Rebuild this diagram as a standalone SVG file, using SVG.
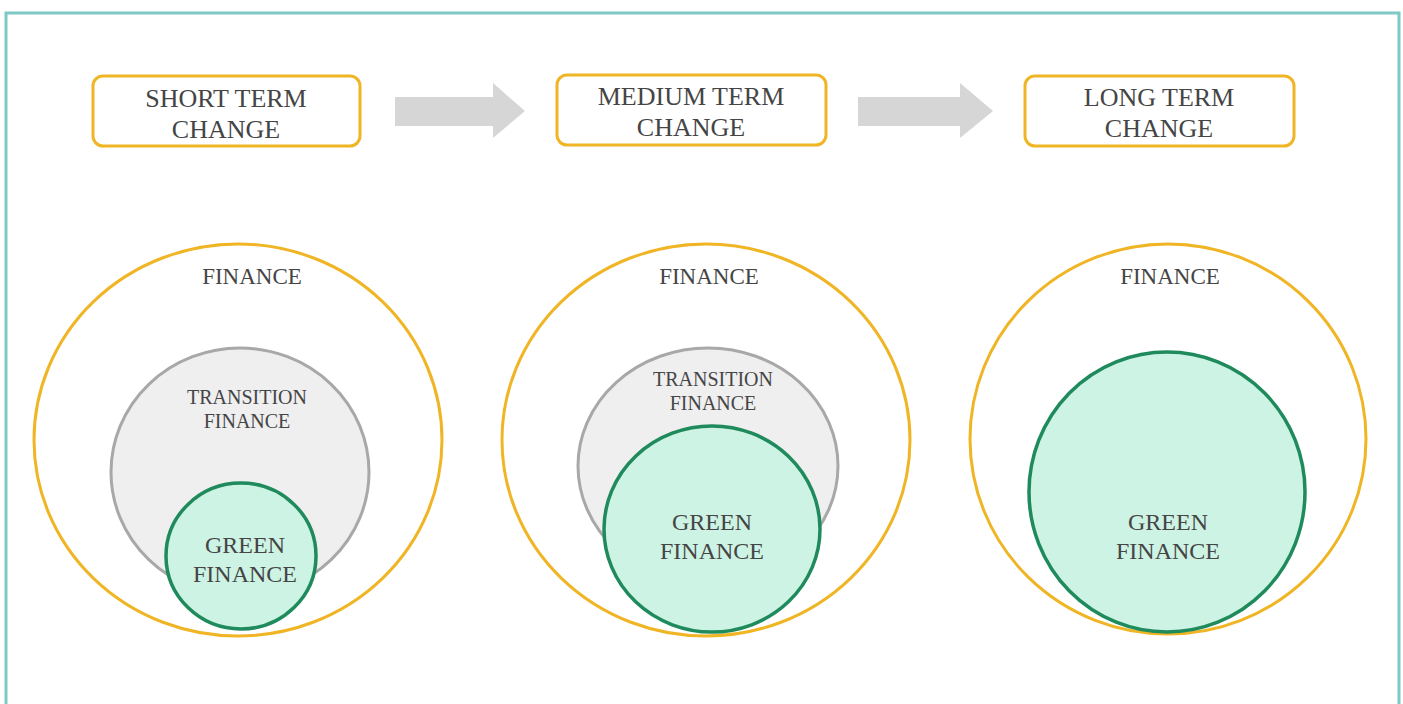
<svg xmlns="http://www.w3.org/2000/svg" width="1403" height="704" viewBox="0 0 1403 704">
<style>
.t{font-family:"Liberation Serif","Times New Roman",serif;fill:#454545;text-anchor:middle}
.box{fill:#fff;stroke:#F0B524;stroke-width:3}
.outer{fill:#fff;stroke:#F0B524;stroke-width:3}
.trans{fill:#EFEFF0;stroke:#A8A8A8;stroke-width:3}
.green{fill:#CDF3E4;stroke:#1F8A5C;stroke-width:3.5}
.arrow{fill:#D6D6D6}
</style>
<rect x="0" y="0" width="1403" height="704" fill="#fff"/>
<path d="M6,710 V13 H1399 V710" fill="none" stroke="#7DC9C5" stroke-width="3"/>
<g id="short-term">
<rect class="box" x="93" y="76" width="267" height="70" rx="10"/>
<text class="t" x="226" y="107" font-size="26">SHORT TERM</text>
<text class="t" x="226" y="138" font-size="26">CHANGE</text>
</g>
<g id="medium-term">
<rect class="box" x="557" y="75" width="269" height="70" rx="10"/>
<text class="t" x="691" y="105" font-size="26">MEDIUM TERM</text>
<text class="t" x="691" y="136" font-size="26">CHANGE</text>
</g>
<g id="long-term">
<rect class="box" x="1025" y="76" width="269" height="70" rx="10"/>
<text class="t" x="1159" y="106" font-size="26">LONG TERM</text>
<text class="t" x="1159" y="137" font-size="26">CHANGE</text>
</g>
<g id="connectors">
<polygon class="arrow" points="395,97 493,97 493,83 525,111 493,138 493,126 395,126"/>
<polygon class="arrow" points="858,97 960,97 960,83 993,111 960,138 960,126 858,126"/>
</g>
<g id="short-finance">
<ellipse class="outer" cx="238" cy="440" rx="204" ry="196"/>
<text class="t" x="252" y="284" font-size="23">FINANCE</text>
</g>
<g id="short-transition">
<ellipse class="trans" cx="240" cy="472" rx="129" ry="124"/>
<text class="t" x="247" y="404" font-size="20">TRANSITION</text>
<text class="t" x="247" y="428" font-size="20">FINANCE</text>
</g>
<g id="short-green">
<ellipse class="green" cx="241" cy="556" rx="75" ry="73"/>
<text class="t" x="245" y="553" font-size="24">GREEN</text>
<text class="t" x="245" y="582" font-size="24">FINANCE</text>
</g>
<g id="medium-finance">
<ellipse class="outer" cx="706" cy="440" rx="204" ry="196"/>
<text class="t" x="709" y="284" font-size="23">FINANCE</text>
</g>
<g id="medium-transition">
<ellipse class="trans" cx="708" cy="466" rx="130" ry="118"/>
<text class="t" x="713" y="386" font-size="20">TRANSITION</text>
<text class="t" x="713" y="410" font-size="20">FINANCE</text>
</g>
<g id="medium-green">
<ellipse class="green" cx="712" cy="529" rx="108" ry="103"/>
<text class="t" x="712" y="530" font-size="24">GREEN</text>
<text class="t" x="712" y="559" font-size="24">FINANCE</text>
</g>
<g id="long-finance">
<ellipse class="outer" cx="1168" cy="439" rx="198" ry="195"/>
<text class="t" x="1170" y="284" font-size="23">FINANCE</text>
</g>
<g id="long-green">
<ellipse class="green" cx="1167" cy="492" rx="138" ry="140"/>
<text class="t" x="1168" y="530" font-size="24">GREEN</text>
<text class="t" x="1168" y="559" font-size="24">FINANCE</text>
</g>
</svg>
